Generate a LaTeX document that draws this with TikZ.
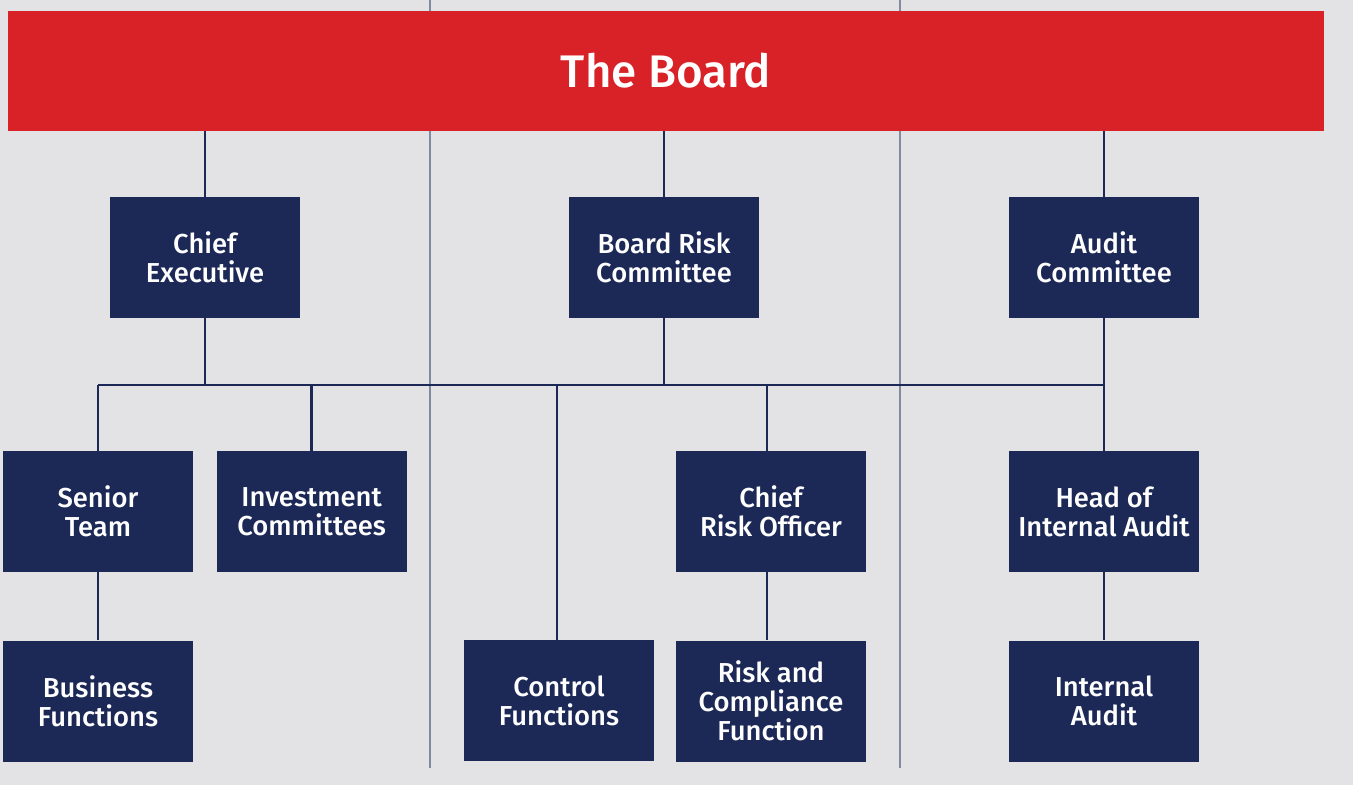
\documentclass[tikz,border=0pt]{standalone}
\usepackage{fontspec}
\setmainfont{Fira Sans}[BoldFont={Fira Sans Medium}]
\usepackage{tikz}
\usetikzlibrary{positioning, calc}
\definecolor{boardred}{RGB}{217, 34, 40}
\definecolor{unitnavy}{RGB}{28, 41, 87}
\definecolor{pagegray}{RGB}{227, 226, 229}
\definecolor{rulegray}{RGB}{127, 139, 160}

\begin{document}
\begin{tikzpicture}[
  x=0.02cm, y=-0.02cm,
  unit/.style={rectangle, fill=unitnavy, text=white, minimum width=3.8cm,
               minimum height=2.42cm, inner sep=0pt, align=center,
               font=\fontsize{15.6}{16.5}\selectfont\bfseries},
  board/.style={rectangle, fill=boardred, text=white, minimum width=26.32cm,
                minimum height=2.4cm, inner sep=0pt,
                font=\fontsize{26}{30}\selectfont\bfseries},
  link/.style={draw=unitnavy, line width=1.6pt},
  divider/.style={draw=rulegray, line width=0.6pt},
]
  % page and column dividers
  \useasboundingbox (0,0) rectangle (1357,785);
  \fill[pagegray] (0,0) rectangle (1353,785);
  \draw[divider] (430,0) -- (430,768);
  \draw[divider] (900,0) -- (900,768);

  \node[board] (theboard) at (666,71) {The Board};

  % first row
  \node[unit] (ceo) at (205,257.5) {Chief\\Executive};
  \node[unit] (brc) at (664,257.5) {Board Risk\\Committee};
  \node[unit] (audit) at (1104,257.5) {Audit\\Committee};

  % second row
  \node[unit] (senior) at (98,511.5) {Senior\\Team};
  \node[unit, right=0.46cm of senior] (invest) {Investment\\Committees};
  \node[unit] (cro) at (771,511.5) {Chief\\Risk Officer};
  \node[unit] (hia) at (1104,511.5) {Head of\\Internal Audit};

  % third row
  \node[unit, below=1.36cm of senior] (business) {Business\\Functions};
  \node[unit] (control) at (559,700.5) {Control\\Functions};
  \node[unit, below=1.36cm of cro] (riskcomp) {Risk and\\Compliance\\Function};
  \node[unit, below=1.36cm of hia] (internal) {Internal\\Audit};

  \coordinate (bus) at (0,385);
  \coordinate (crodrop) at ([xshift=-0.08cm]cro.north);
  \coordinate (ctldrop) at ([xshift=-0.04cm]control.north);

  % board to committees
  \draw[link] (theboard.south -| ceo.north) -- (ceo.north);
  \draw[link] (theboard.south -| brc.north) -- (brc.north);
  \draw[link] (theboard.south -| audit.north) -- (audit.north);

  % shared reporting line
  \draw[link] (senior.north |- bus) -- (hia.north |- bus);
  \draw[link] (ceo.south) -- (ceo.south |- bus);
  \draw[link] (brc.south) -- (brc.south |- bus);
  \draw[link] (audit.south) -- (hia.north);
  \draw[link] (senior.north |- bus) -- (senior.north);
  \draw[link] (invest.north |- bus) -- (invest.north);
  \draw[link] (ctldrop |- bus) -- (ctldrop);
  \draw[link] (crodrop |- bus) -- (crodrop);

  % lower links
  \draw[link] (senior) -- (business);
  \draw[link] ([xshift=-0.08cm]cro.south) -- ([xshift=-0.08cm]riskcomp.north);
  \draw[link] (hia) -- (internal);
\end{tikzpicture}
\end{document}
